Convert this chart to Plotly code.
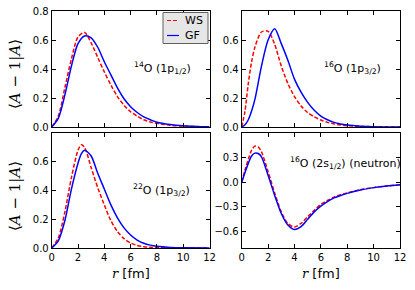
import plotly.graph_objects as go

# ---------------- data ----------------
r_p14 = [0, 0.5, 1.0, 1.5, 2.0, 2.5, 3.0, 3.5, 4.0, 4.5, 5.0, 5.5, 6.0, 6.5, 7.0, 7.5, 8.0, 9.0, 10.0, 11.0, 12.0]
ws_14O = [0, 0.075, 0.27, 0.47, 0.62, 0.652, 0.58, 0.48, 0.38, 0.29, 0.21, 0.15, 0.105, 0.075, 0.05, 0.035, 0.025, 0.012, 0.006, 0.003, 0.001]
gf_14O = [0, 0.06, 0.22, 0.42, 0.575, 0.628, 0.615, 0.55, 0.45, 0.36, 0.27, 0.195, 0.14, 0.10, 0.07, 0.05, 0.033, 0.017, 0.008, 0.004, 0.002]

r_16 = [0, 0.25, 0.5, 0.75, 1.0, 1.5, 2.0, 2.5, 3.0, 3.5, 4.0, 4.5, 5.0, 5.5, 6.0, 6.5, 7.0, 7.5, 8.0, 9.0, 10.0, 12.0]
ws_16O = [0, 0.11, 0.30, 0.45, 0.55, 0.655, 0.66, 0.57, 0.42, 0.30, 0.21, 0.145, 0.10, 0.07, 0.048, 0.032, 0.021, 0.014, 0.009, 0.004, 0.002, 0.0]
gf_16O = [0, 0.015, 0.05, 0.11, 0.19, 0.42, 0.60, 0.678, 0.575, 0.46, 0.33, 0.24, 0.17, 0.115, 0.075, 0.05, 0.032, 0.021, 0.014, 0.006, 0.002, 0.0]

r_22 = [0, 0.5, 1.0, 1.5, 2.0, 2.25, 2.5, 3.0, 3.5, 4.0, 4.5, 5.0, 5.5, 6.0, 6.5, 7.0, 7.5, 8.0, 9.0, 10.0, 12.0]
ws_22O = [0, 0.07, 0.25, 0.49, 0.68, 0.718, 0.70, 0.56, 0.42, 0.30, 0.19, 0.115, 0.065, 0.035, 0.018, 0.009, 0.005, 0.002, 0.0005, 0.0, 0.0]
gf_22O = [0, 0.05, 0.19, 0.41, 0.59, 0.655, 0.68, 0.64, 0.52, 0.41, 0.30, 0.21, 0.14, 0.09, 0.055, 0.033, 0.02, 0.012, 0.004, 0.001, 0.0]

r_2s = [0, 0.25, 0.5, 0.75, 1.0, 1.25, 1.5, 2.0, 2.5, 3.0, 3.5, 4.0, 4.5, 5.0, 5.5, 6.0, 6.5, 7.0, 7.5, 8.0, 9.0, 10.0, 11.0, 12.0]
ws_2s = [0, 0.15, 0.28, 0.39, 0.44, 0.43, 0.37, 0.13, -0.13, -0.36, -0.50, -0.545, -0.50, -0.42, -0.34, -0.27, -0.22, -0.18, -0.15, -0.13, -0.09, -0.065, -0.045, -0.03]
gf_2s = [0, 0.12, 0.23, 0.32, 0.355, 0.35, 0.31, 0.085, -0.16, -0.38, -0.52, -0.575, -0.54, -0.45, -0.36, -0.29, -0.235, -0.19, -0.16, -0.135, -0.095, -0.065, -0.045, -0.03]

x_ticks = [0, 2, 4, 6, 8, 10, 12]
series_names = ["WS", "GF"]
panel_labels = ["<sup>14</sup>O (1p<sub>1/2</sub>)", "<sup>16</sup>O (1p<sub>3/2</sub>)",
                "<sup>22</sup>O (1p<sub>3/2</sub>)", "<sup>16</sup>O (2s<sub>1/2</sub>) (neutron)"]

W, H = 415, 290
def px(x):
    return x / W
def py(y):
    return 1 - y / H

RED = "#ff0000"
BLUE = "#0000ff"
FONT = "DejaVu Sans"
WS_DASH = "4px,2px"

fig = go.Figure()
panels = [
    (r_p14, ws_14O, gf_14O, "x", "y"),
    (r_16, ws_16O, gf_16O, "x2", "y2"),
    (r_22, ws_22O, gf_22O, "x3", "y3"),
    (r_2s, ws_2s, gf_2s, "x4", "y4"),
]
for i, (r, ws, gf, xa, ya) in enumerate(panels):
    fig.add_trace(go.Scatter(x=r, y=ws, mode="lines", name=series_names[0], showlegend=False,
                             line=dict(color=RED, width=1.5, dash=WS_DASH, shape="spline", smoothing=0.8),
                             xaxis=xa, yaxis=ya))
    fig.add_trace(go.Scatter(x=r, y=gf, mode="lines", name=series_names[1], showlegend=False,
                             line=dict(color=BLUE, width=1.5, shape="spline", smoothing=0.8),
                             xaxis=xa, yaxis=ya))

xdom_l = [px(51.7), px(209.5)]
xdom_r = [px(241.7), px(400)]
ydom_t = [py(127), py(11)]
ydom_b = [py(248), py(133)]

common = dict(showline=True, linecolor="black", linewidth=1, mirror="ticks", ticks="inside",
              ticklen=4, tickwidth=1, tickcolor="black", showgrid=False, zeroline=False,
              automargin=False,
              tickfont=dict(family=FONT, size=10, color="black"))

def xax(dom, anchor, labels):
    return dict(domain=dom, anchor=anchor, range=[0, 12], tickvals=x_ticks,
                showticklabels=labels, **common)

fig.update_layout(
    width=W, height=H, margin=dict(l=0, r=0, t=0, b=0, autoexpand=False),
    paper_bgcolor="white", plot_bgcolor="white",
    xaxis=xax(xdom_l, "y", False),
    xaxis2=xax(xdom_r, "y2", False),
    xaxis3=xax(xdom_l, "y3", True),
    xaxis4=xax(xdom_r, "y4", True),
    yaxis=dict(domain=ydom_t, anchor="x", range=[0, 0.8], tickvals=[0, 0.2, 0.4, 0.6, 0.8], tickformat=".1f", **common),
    yaxis2=dict(domain=ydom_t, anchor="x2", range=[0, 0.8], tickvals=[0, 0.2, 0.4, 0.6], tickformat=".1f", **common),
    yaxis3=dict(domain=ydom_b, anchor="x3", range=[0, 0.8], tickvals=[0, 0.2, 0.4, 0.6], tickformat=".1f", **common),
    yaxis4=dict(domain=ydom_b, anchor="x4", range=[-0.8, 0.6], tickvals=[-0.6, -0.3, 0, 0.3], tickformat=".1f", **common),
    showlegend=False,
)

# legend box (drawn as decoration, matplotlib-style)
fig.add_shape(type="rect", xref="paper", yref="paper",
              x0=px(163), x1=px(208), y0=py(43.5), y1=py(12.5),
              fillcolor="#e6e6e6", line=dict(color="#606060", width=1), layer="above")
for j, (nm, col, dash) in enumerate(zip(series_names, [RED, BLUE], [WS_DASH, "solid"])):
    yy = 20.5 + 15 * j
    fig.add_shape(type="line", xref="paper", yref="paper",
                  x0=px(167), x1=px(179), y0=py(yy), y1=py(yy),
                  line=dict(color=col, width=1.2, dash=dash), layer="above")
    fig.add_annotation(x=px(183), y=py(yy), xref="paper", yref="paper", text=nm,
                       showarrow=False, xanchor="left", yanchor="middle",
                       font=dict(family=FONT, size=11, color="black"))

# panel labels
label_pos = [(132, 68), (322, 68), (131, 190), (288, 163)]
for (lx, ly), txt in zip(label_pos, panel_labels):
    fig.add_annotation(x=px(lx), y=py(ly), xref="paper", yref="paper", text=txt,
                       showarrow=False, xanchor="left", yanchor="middle",
                       font=dict(family=FONT, size=11, color="black"))

# y titles
for cy in (74, 196):
    fig.add_annotation(x=px(15), y=py(cy), xref="paper", yref="paper",
                       text="⟨<i>A</i> − 1|<i>A</i>⟩", textangle=-90, showarrow=False,
                       xanchor="center", yanchor="middle",
                       font=dict(family="DejaVu Serif", size=15, color="black"))

# x titles
for cx in (130.5, 321):
    fig.add_annotation(x=px(cx), y=py(273), xref="paper", yref="paper",
                       text="<span style='font-family:DejaVu Serif'><i>r</i></span> [fm]",
                       showarrow=False, xanchor="center", yanchor="middle",
                       font=dict(family=FONT, size=13, color="black"))

fig.write_html("out.html", config={"displayModeBar": False},
               post_script="document.body.style.margin='0px';document.body.style.padding='0px';")
